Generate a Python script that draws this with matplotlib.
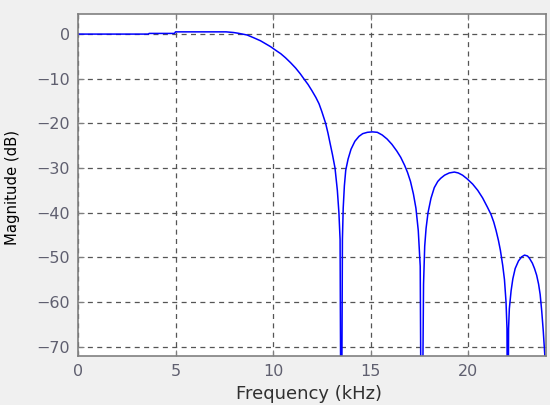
import matplotlib

matplotlib.use("Agg")
import matplotlib.pyplot as plt

# magnitude response (kHz, dB); nulls drop below the axis
freq_khz = [
    0.0, 3.6, 3.65, 4.95, 5.0, 7.6, 7.98, 8.2, 8.67, 9.0,
    9.36, 9.87, 10.13, 10.4, 10.64, 10.9, 11.16, 11.4, 11.58, 11.8,
    12.0, 12.2, 12.36, 12.5, 12.7, 12.82, 12.92, 13.05, 13.18, 13.3,
    13.38, 13.44, 13.5, 13.56, 13.6, 13.66, 13.73, 13.85, 14.0, 14.2,
    14.41, 14.6, 14.84, 15.1, 15.35, 15.6, 15.85, 16.1, 16.35, 16.55,
    16.75, 16.9, 17.05, 17.2, 17.33, 17.45, 17.55, 17.62, 17.72, 17.78,
    17.85, 17.95, 18.1, 18.27, 18.45, 18.6, 18.8, 19.04, 19.3, 19.5,
    19.72, 19.95, 20.24, 20.5, 20.75, 21.0, 21.18, 21.32, 21.44, 21.56,
    21.66, 21.78, 21.87, 21.95, 22.0, 22.04, 22.08, 22.12, 22.21, 22.3,
    22.42, 22.59, 22.75, 22.9, 23.05, 23.15, 23.3, 23.41, 23.52, 23.62,
    23.7, 23.78, 23.86, 23.94, 24.0,
]
magnitude_db = [
    0.0, 0.0, 0.15, 0.15, 0.5, 0.5, 0.35, 0.2, -0.2, -0.8,
    -1.5, -2.8, -3.6, -4.4, -5.3, -6.4, -7.6, -8.9, -10.0, -11.3,
    -12.7, -14.2, -15.6, -17.3, -20.0, -22.2, -24.3, -27.0, -30.0, -35.0,
    -40.0, -46.0, -110.0, -46.0, -39.0, -34.0, -30.5, -28.0, -25.8, -24.0,
    -22.9, -22.3, -22.0, -21.9, -22.0, -22.6, -23.5, -24.7, -26.2, -27.6,
    -29.4, -31.0, -33.0, -35.8, -39.0, -44.0, -52.0, -110.0, -56.0, -47.5,
    -43.5, -40.0, -36.8, -34.4, -33.0, -32.3, -31.6, -31.1, -30.9, -31.1,
    -31.6, -32.4, -33.6, -35.0, -36.7, -38.8, -40.4, -42.1, -44.0, -46.2,
    -48.4, -51.8, -55.0, -60.0, -66.0, -110.0, -66.0, -61.5, -57.5, -54.8,
    -52.5, -50.8, -49.9, -49.5, -49.7, -50.2, -51.3, -52.5, -54.0, -56.0,
    -58.3, -62.0, -66.5, -72.0, -110.0,
]
x_ticks = [0, 5, 10, 15, 20]
y_ticks = [0, -10, -20, -30, -40, -50, -60, -70]

plt.rcParams["font.family"] = ["DejaVu Sans"]

fig = plt.figure(figsize=(5.5, 4.05), dpi=100, facecolor="#f0f0f0")
ax = fig.add_axes([78 / 550, 49 / 405, 468 / 550, 342 / 405])
ax.set_facecolor("white")

ax.plot(freq_khz, magnitude_db, color="#0000ff", linewidth=1.1)

ax.set_xlim(0, 24)
ax.set_ylim(-72.1, 4.5)
ax.set_xticks(x_ticks)
ax.set_yticks(y_ticks)
ax.grid(True, color="#555555", linestyle=(0, (4, 3.5)), linewidth=0.9)

for spine in ax.spines.values():
    spine.set_color("#808080")
    spine.set_linewidth(1.2)
ax.tick_params(direction="in", length=4, width=0.8, color="#808080",
               labelsize=11.5, labelcolor="#5f5f6f", pad=6,
               top=True, right=True)

ax.set_xlabel("Frequency (kHz)", fontsize=13, color="#303030")
ax.xaxis.set_label_coords(0.494, -0.085)
ax.set_ylabel("Magnitude (dB)", fontsize=10.7, color="black")
ax.yaxis.set_label_coords(-0.124, 0.493)

fig.savefig("out.png", dpi=100, facecolor=fig.get_facecolor())
